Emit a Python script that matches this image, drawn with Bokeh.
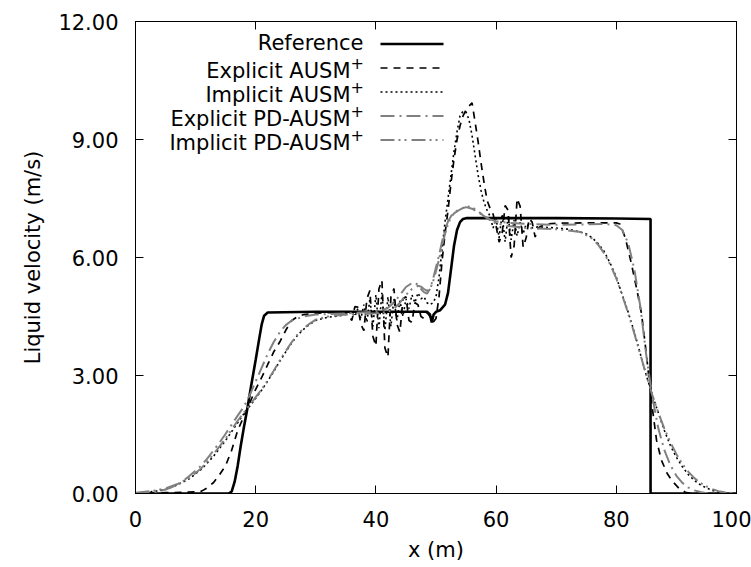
from bokeh.plotting import figure
from bokeh.models import (Range1d, FixedTicker, NumeralTickFormatter, LinearAxis,
                          Label, Arrow)
from bokeh.embed import file_html
from bokeh.resources import INLINE

# ---------------- data ----------------
x_ticks = [0, 20, 40, 60, 80, 100]
y_ticks = [0, 3, 6, 9, 12]

series_labels = ["Reference", "Explicit AUSM", "Implicit AUSM",
                 "Explicit PD-AUSM", "Implicit PD-AUSM"]
series_sups = ["", "+", "+", "+", "+"]

reference = [(0, 0), (15.5, 0), (16.0, 0.05), (16.5, 0.3), (17.0, 0.7), (17.5, 1.2),
             (18.0, 1.65), (18.6, 2.15), (19.2, 2.7), (20.0, 3.4), (20.6, 3.95),
             (21.0, 4.3), (21.4, 4.52), (22.0, 4.6), (30, 4.62), (40, 4.62),
             (48.5, 4.62), (49.0, 4.55), (49.3, 4.35), (49.6, 4.55), (50.0, 4.62),
             (50.7, 4.66), (51.5, 4.8), (52.0, 5.1), (52.5, 5.7), (53.0, 6.3),
             (53.5, 6.7), (54.0, 6.9), (54.5, 6.98), (55.0, 7.0), (60, 7.0),
             (70, 7.0), (80, 6.99), (85.7, 6.98), (85.7, 0.0), (100, 0.0)]

explicit_ausm = [(0, 0), (5, 0.02), (8, 0.03), (10, 0.04), (11, 0.06), (12, 0.15),
                 (13, 0.28), (14, 0.48), (15, 0.71), (16, 1.1), (17, 1.6), (18, 1.95),
                 (19, 2.3), (20, 2.65), (21, 2.95), (22, 3.28), (23, 3.6), (24, 3.85),
                 (25, 4.15), (26, 4.4), (27, 4.5), (28, 4.55), (30, 4.58), (32, 4.6),
                 (34, 4.6), (35, 4.6), (35.5, 4.52), (36, 4.4), (36.5, 4.75), (37, 4.74),
                 (37.5, 4.3), (38, 4.14), (38.5, 4.95), (39, 5.16), (39.5, 4.0),
                 (40, 3.75), (40.5, 5.2), (41, 5.42), (41.5, 3.7), (42, 3.47),
                 (42.5, 5.0), (43, 5.21), (43.5, 4.3), (44, 4.1), (44.5, 4.95),
                 (45, 5.0), (45.5, 4.4), (46, 4.35), (46.5, 4.85), (47, 4.8),
                 (47.5, 4.5), (48, 4.45), (48.5, 4.6), (49, 4.5), (49.5, 4.35),
                 (50, 4.45), (50.5, 5.0), (51, 5.9), (51.5, 6.6), (52, 7.2),
                 (52.5, 7.9), (53, 8.5), (53.5, 9.0), (54, 9.35), (54.5, 9.6),
                 (55, 9.75), (55.5, 9.85), (56, 9.93), (56.5, 9.45), (57, 8.95),
                 (57.5, 8.4), (58, 7.9), (58.5, 7.45), (59, 7.25), (59.5, 7.1),
                 (60, 6.8), (60.5, 6.39), (61, 6.6), (61.5, 7.32), (62, 7.2),
                 (62.5, 6.0), (63, 6.3), (63.5, 7.5), (64, 7.3), (64.5, 6.26),
                 (65, 6.5), (65.5, 6.99), (66, 6.9), (66.5, 6.52), (67, 6.75),
                 (68, 6.85), (70, 6.87), (75, 6.88), (80, 6.88), (80.6, 6.85),
                 (81.5, 6.5), (82.5, 5.85), (83.4, 5.2), (84.2, 4.57), (85, 3.55),
                 (85.8, 2.4), (86.7, 1.35), (87.5, 0.85), (88.5, 0.5), (89.4, 0.3),
                 (90.5, 0.12), (91.5, 0.03), (92.5, 0.0), (100, 0.0)]

implicit_ausm = [(0, 0.01), (3, 0.05), (5, 0.1), (7, 0.22), (9, 0.38), (10, 0.5),
                 (11, 0.62), (13, 0.95), (15, 1.35), (17, 1.8), (18, 2.02), (19, 2.22),
                 (20, 2.42), (21, 2.63), (22, 2.86), (23, 3.1), (24, 3.36), (25, 3.6),
                 (26, 3.83), (27, 4.03), (28, 4.18), (29, 4.3), (30, 4.4), (32, 4.48),
                 (34, 4.52), (35, 4.55), (36, 4.62), (36.5, 4.5), (37, 4.7), (37.5, 4.45),
                 (38, 4.8), (38.5, 4.35), (39, 4.95), (39.5, 4.25), (40, 5.05),
                 (40.5, 4.2), (41, 5.1), (41.5, 4.15), (42, 5.0), (42.5, 4.25),
                 (43, 4.95), (43.5, 4.4), (44, 4.9), (44.5, 4.5), (45, 4.95),
                 (45.5, 4.7), (46, 5.05), (46.5, 4.85), (47, 5.1), (47.5, 4.95),
                 (48, 5.0), (48.5, 4.85), (49, 4.8), (49.5, 4.85), (50, 5.0),
                 (50.5, 5.5), (51, 6.2), (51.5, 6.9), (52, 7.5), (52.5, 8.1),
                 (53, 8.7), (53.5, 9.2), (54, 9.6), (54.5, 9.72), (55, 9.7),
                 (55.5, 9.5), (56, 9.1), (56.5, 8.6), (57, 8.1), (57.5, 7.7),
                 (58, 7.4), (58.5, 7.2), (59, 7.05), (59.5, 6.75), (60, 7.0),
                 (60.5, 6.5), (61, 7.1), (61.5, 6.4), (62, 7.05), (62.5, 6.45),
                 (63, 6.95), (63.5, 6.55), (64, 6.9), (64.5, 6.6), (65, 6.85),
                 (66, 6.75), (67, 6.78), (70, 6.75), (72, 6.72), (74, 6.65),
                 (75, 6.6), (76, 6.5), (77, 6.35), (78, 6.15), (79, 5.85), (80, 5.5),
                 (81, 5.05), (82, 4.6), (83, 4.1), (84, 3.55), (85, 3.0), (86, 2.5),
                 (87, 2.05), (88, 1.6), (89, 1.22), (90, 0.92), (91, 0.68),
                 (92, 0.48), (93, 0.33), (94, 0.22), (95, 0.14), (96, 0.08),
                 (97, 0.04), (98, 0.02), (100, 0.0)]

explicit_pd = [(0, 0.0), (3, 0.03), (5, 0.1), (7, 0.22), (8, 0.33), (9, 0.45),
               (10, 0.58), (11, 0.72), (12, 0.9), (13, 1.1), (14, 1.3), (15, 1.52),
               (16, 1.75), (17, 1.98), (18, 2.2), (19, 2.5), (20, 2.85), (21, 3.2),
               (22, 3.55), (23, 3.85), (24, 4.1), (25, 4.28), (26, 4.4), (28, 4.5),
               (30, 4.55), (35, 4.58), (40, 4.62), (41, 4.66), (42, 4.72), (43, 4.85),
               (44, 5.05), (45, 5.25), (46, 5.35), (46.5, 5.36), (47, 5.3),
               (47.5, 5.2), (48, 5.12), (48.5, 5.08), (49, 5.2), (49.5, 5.45),
               (50, 5.75), (50.5, 6.05), (51, 6.4), (51.5, 6.7), (52, 6.92),
               (52.5, 7.05), (53, 7.15), (54, 7.23), (55, 7.28), (56, 7.24),
               (57, 7.15), (58, 7.05), (59, 6.97), (60, 6.92), (62, 6.88), (66, 6.85),
               (70, 6.83), (78, 6.85), (80, 6.82), (81, 6.7), (82, 6.35), (83, 5.7),
               (84, 4.75), (85, 3.5), (86, 2.45), (87, 1.65), (88, 1.1), (89, 0.72),
               (90, 0.45), (91, 0.27), (92, 0.15), (93, 0.08), (94, 0.04), (95, 0.01),
               (96, 0.0), (100, 0.0)]

implicit_pd = [(0, 0.02), (3, 0.07), (5, 0.13), (7, 0.24), (9, 0.4), (11, 0.65),
               (13, 1.0), (15, 1.4), (17, 1.85), (18, 2.05), (19, 2.25), (20, 2.45),
               (21, 2.65), (22, 2.88), (23, 3.12), (24, 3.38), (25, 3.62), (26, 3.85),
               (27, 4.05), (28, 4.2), (29, 4.32), (30, 4.42), (32, 4.5), (35, 4.55),
               (40, 4.58), (42, 4.62), (43, 4.7), (44, 4.85), (45, 5.05), (46, 5.2),
               (47, 5.28), (47.5, 5.26), (48, 5.2), (48.5, 5.15), (49, 5.2),
               (49.5, 5.38), (50, 5.65), (50.5, 5.95), (51, 6.3), (51.5, 6.6),
               (52, 6.85), (52.5, 7.02), (53, 7.12), (54, 7.22), (55, 7.3),
               (56, 7.28), (57, 7.18), (58, 7.05), (59, 6.95), (60, 6.87), (62, 6.8),
               (65, 6.75), (70, 6.72), (74, 6.65), (76, 6.48), (77, 6.32), (78, 6.1),
               (79, 5.82), (80, 5.47), (81, 5.03), (82, 4.57), (83, 4.07), (84, 3.53),
               (85, 3.0), (86, 2.5), (87, 2.05), (88, 1.65), (89, 1.3), (90, 1.0),
               (91, 0.75), (92, 0.55), (93, 0.39), (94, 0.27), (95, 0.18), (96, 0.11),
               (97, 0.06), (98, 0.03), (99, 0.01), (100, 0.0)]

# ---------------- layout (pixels) ----------------
W, H = 751, 567
FRAME_L, FRAME_R, FRAME_T, FRAME_B = 135, 736, 21, 493
FONT = "DejaVu Sans"
FS = "21px"
FS_SUP = "16px"

X0, X1 = 0, 100
Y0, Y1 = 0, 12


def px2x(px):
    return X0 + (px - FRAME_L) / (FRAME_R - FRAME_L) * (X1 - X0)


def px2y(py):
    return Y0 + (FRAME_B - py) / (FRAME_B - FRAME_T) * (Y1 - Y0)


p = figure(width=W, height=H, x_range=Range1d(X0, X1), y_range=Range1d(Y0, Y1),
           output_backend="svg", toolbar_location=None,
           min_border_left=FRAME_L, min_border_right=W - FRAME_R,
           min_border_top=FRAME_T, min_border_bottom=H - FRAME_B)
p.xgrid.visible = False
p.ygrid.visible = False
p.outline_line_color = "black"
p.outline_line_width = 1
p.background_fill_color = "white"
p.border_fill_color = "white"


def style_axis(ax, ticks, fmt=None, labels=True):
    ax.ticker = FixedTicker(ticks=ticks)
    if fmt is not None:
        ax.formatter = NumeralTickFormatter(format=fmt)
    ax.major_tick_in = 8
    ax.major_tick_out = 0
    ax.minor_tick_line_color = None
    ax.axis_line_color = "black"
    ax.major_tick_line_color = "black"
    ax.major_label_text_font = FONT
    ax.axis_label_text_font = FONT
    ax.axis_label_text_font_style = "normal"
    ax.axis_label_text_color = "black"
    if labels:
        ax.major_label_text_color = "black"
        ax.major_label_text_font_size = FS
        ax.axis_label_text_font_size = FS
    else:
        ax.major_label_text_color = None
        ax.major_label_standoff = 0


style_axis(p.xaxis[0], x_ticks)
style_axis(p.yaxis[0], y_ticks, "0.00")
p.xaxis[0].axis_label = "x (m)"
p.yaxis[0].axis_label = "Liquid velocity (m/s)"
p.xaxis[0].major_label_standoff = 17
p.xaxis[0].axis_label_standoff = 8
p.yaxis[0].major_label_standoff = 17
p.yaxis[0].axis_label_standoff = 10

top_ax = LinearAxis()
right_ax = LinearAxis()
style_axis(top_ax, x_ticks, labels=False)
style_axis(right_ax, y_ticks, labels=False)
p.add_layout(top_ax, "above")
p.add_layout(right_ax, "right")

GRAY = "#808080"
styles = [
    dict(line_color="black", line_width=2.6, line_dash="solid"),
    dict(line_color="black", line_width=1.7, line_dash="7 6"),
    dict(line_color="black", line_width=1.6, line_dash="2 3"),
    dict(line_color=GRAY, line_width=2.0, line_dash="14 5 2 5"),
    dict(line_color=GRAY, line_width=2.0, line_dash="14 4 2 4 2 5"),
]
all_series = [reference, explicit_ausm, implicit_ausm, explicit_pd, implicit_pd]

for data, st in zip(all_series, styles):
    xs = [d[0] for d in data]
    ys = [d[1] for d in data]
    p.line(xs, ys, **st)

# ---------------- legend (text on the left, key on the right) ----------------
LEG_TEXT_RIGHT = 363
SUP_W = 13
SUP_DY = -8
LEG_KEY_L, LEG_KEY_R = 380, 443
LEG_ROW0, LEG_PITCH = 43.5, 24
LEG_TEXT_DY = [-1, 3, 3, 3, 3]

for i, (lab, sup, st) in enumerate(zip(series_labels, series_sups, styles)):
    row_y = LEG_ROW0 + i * LEG_PITCH
    text_y = row_y + LEG_TEXT_DY[i]
    right = LEG_TEXT_RIGHT - (SUP_W if sup else 0)
    p.add_layout(Label(x=px2x(right), y=px2y(text_y), text=lab,
                       text_align="right", text_baseline="middle",
                       text_font=FONT, text_font_size=FS, text_color="black"))
    if sup:
        p.add_layout(Label(x=px2x(right), y=px2y(text_y + SUP_DY), text=sup,
                           text_align="left", text_baseline="middle",
                           text_font=FONT, text_font_size=FS_SUP,
                           text_color="black"))
    p.add_layout(Arrow(end=None, x_start=px2x(LEG_KEY_L), y_start=px2y(row_y),
                       x_end=px2x(LEG_KEY_R), y_end=px2y(row_y), **st))

open("out.html", "w").write(file_html(p, INLINE))
